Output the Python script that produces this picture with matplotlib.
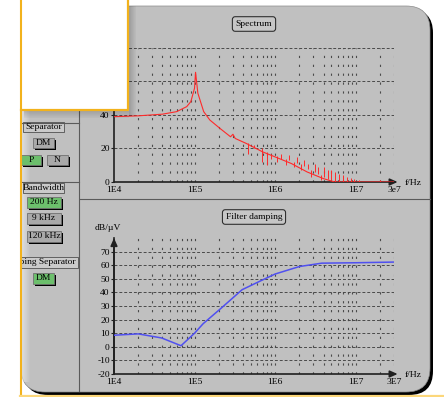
import numpy as np
import matplotlib
matplotlib.use('Agg')
import matplotlib.pyplot as plt
from matplotlib.patches import FancyBboxPatch, Rectangle
from matplotlib.transforms import Bbox, TransformedBbox

plt.rcParams['font.family'] = ['Liberation Serif', 'DejaVu Serif']

W, H = 444, 397

# spectrum, dBµV over f/Hz
spec_f = [1e4, 2e4, 4e4, 6e4, 8e4, 9e4, 1.0e5, 1.03e5, 1.1e5, 1.3e5, 1.55e5,
          2.07e5, 2.8e5, 3.0e5, 3.2e5, 4.4e5, 7e5, 1e6, 1.6e6, 2.5e6, 4e6, 5.5e6, 3e7]
spec_v = [39, 39.5, 40.5, 42, 45, 48, 56, 65.5, 53, 42, 37,
          32, 27, 28.5, 26, 23, 18, 15, 11, 6, 2, 0, 0]
# narrow spikes on top of the spectrum
spike_f = [4.6e5, 5.5e5, 6.8e5, 8.0e5, 9.0e5, 1.05e6, 1.2e6, 1.35e6, 1.5e6, 1.7e6,
           1.9e6, 2.1e6, 2.3e6, 2.6e6, 2.8e6, 3.1e6, 3.4e6, 3.7e6, 4.1e6, 4.5e6,
           5.0e6, 5.6e6, 6.3e6, 7.0e6, 7.8e6, 8.7e6, 9.5e6, 1.1e7, 2.0e7]
spike_lo = [17, 20, 12, 10, 14, 12, 14, 10, 13, 9,
            11.5, 7, 9.5, 8, 3, 6, 5, 1, 3, 2,
            1, 0, 0, 0, 0, 0, 0, 0, 0]
spike_hi = [23, 22, 20, 18, 17, 15.5, 17, 13.5, 16, 12,
            15, 10.5, 13, 11, 7, 11, 9, 4, 9, 7,
            7, 6, 5, 4, 3, 2.5, 2, 1, 1]

# filter damping, dB over f/Hz
damp_f = [1e4, 2e4, 3.9e4, 6.8e4, 1e5, 1.28e5, 2.2e5, 3.9e5, 6.9e5, 1e6, 2e6, 3.8e6, 1e7, 3e7]
damp_v = [8.5, 9.5, 6.5, 0.8, 10, 17, 29, 42, 49, 53.5, 59, 61.5, 61.8, 62.3]

spec_ticks = [0, 20, 40, 60, 80]
damp_ticks = [-20, -10, 0, 10, 20, 30, 40, 50, 60, 70]

GRAY = '#c0c0c0'
GRID = '#4a4a4a'
GREEN = '#6cbf6c'
BTN = '#a9a9a9'
ORANGE = '#f2b21c'
FS = 6.8

fig = plt.figure(figsize=(W / 100, H / 100), dpi=100)
fig.patch.set_facecolor('white')

bg = fig.add_axes([0, 0, 1, 1], zorder=0)
bg.set_xlim(0, W)
bg.set_ylim(H, 0)
bg.axis('off')

# panel with black shadow
bg.add_patch(FancyBboxPatch((24, 9), 409, 386, boxstyle='round,pad=0,rounding_size=24',
                            fc='black', ec='none'))
bg.add_patch(FancyBboxPatch((21, 6), 409, 386, boxstyle='round,pad=0,rounding_size=24',
                            fc=GRAY, ec='#8a8a8a', lw=0.5))
# light gradient on the left edge
for i in range(9):
    bg.add_patch(Rectangle((21 + i, 110), 1, 272, fc='white', ec='none', alpha=0.5 - i * 0.055))

# separators
bg.plot([79, 79], [6, 391], color='#5a5a5a', lw=0.8)
bg.plot([80, 430], [199, 199], color='#5a5a5a', lw=0.8)
bg.plot([21, 79], [123, 123], color='#5a5a5a', lw=0.8)
bg.plot([21, 79], [182, 182], color='#5a5a5a', lw=0.8)


def header(x0, y0, x1, y1, label, clip=False):
    r = Rectangle((x0, y0), x1 - x0, y1 - y0, fc='#cacaca', ec='#505050', lw=0.6)
    bg.add_patch(r)
    if clip:
        t = bg.text(x1 - 2, (y0 + y1) / 2, label, ha='right', va='center', fontsize=FS)
        t.set_clip_box(TransformedBbox(Bbox([[x0, y0], [x1, y1]]), bg.transData))
        t.set_clip_on(True)
    else:
        bg.text((x0 + x1) / 2, (y0 + y1) / 2, label, ha='center', va='center', fontsize=FS)


def button(x0, y0, x1, y1, label, color):
    bg.add_patch(Rectangle((x0 + 2, y0 + 2), x1 - x0, y1 - y0, fc='black', ec='none'))
    bg.add_patch(Rectangle((x0, y0), x1 - x0, y1 - y0, fc=color, ec='#707070', lw=0.6))
    bg.text((x0 + x1) / 2, (y0 + y1) / 2, label, ha='center', va='center', fontsize=FS)


header(23, 122, 64, 132, 'Separator')
button(33, 138, 54, 148, 'DM', BTN)
button(21, 155, 41, 165, 'P', GREEN)
button(47, 155, 68, 165, 'N', BTN)
header(23, 183, 64, 193, 'Bandwidth')
button(27, 197, 61, 208, '200 Hz', GREEN)
button(27, 213, 61, 224, '9 kHz', BTN)
button(27, 231, 61, 242, '120 kHz', BTN)
header(21, 257, 78, 268, 'Damping Separator', clip=True)
button(33, 273, 54, 284, 'DM', GREEN)

title_box = dict(boxstyle='round,pad=0.35,rounding_size=0.3', fc='#c6c6c6', ec='#303030', lw=0.8)
bg.text(254, 24, 'Spectrum', ha='center', va='center', fontsize=FS, bbox=title_box)
bg.text(254, 217, 'Filter damping', ha='center', va='center', fontsize=FS, bbox=title_box)
bg.text(108, 228, 'dB/µV', ha='center', va='center', fontsize=FS)
bg.text(405, 183, 'f/Hz', ha='left', va='center', fontsize=FS)
bg.text(405, 375, 'f/Hz', ha='left', va='center', fontsize=FS)


def px_axes(l, t, r, b):
    a = fig.add_axes([l / W, 1 - b / H, (r - l) / W, (b - t) / H], zorder=1)
    a.patch.set_alpha(0)
    return a


def setup(ax, ymin, ymax, yticks, xlabels):
    ax.set_xscale('log')
    ax.set_xlim(1e4, 3e7)
    ax.set_ylim(ymin, ymax)
    for d in [1e4, 1e5, 1e6, 1e7]:
        for m in range(1, 10):
            f = m * d
            if 1e4 < f <= 3e7:
                ax.plot([f, f], [ymin, ymax], color=GRID, lw=0.8, ls=(0, (2, 6)), zorder=1)
    for y in yticks[1:]:
        ax.plot([1e4, 3e7], [y, y], color=GRID, lw=0.7, ls=(0, (3, 2)), zorder=1)
    for s in ['top', 'right']:
        ax.spines[s].set_visible(False)
    ax.spines['left'].set_color('#202020')
    ax.spines['left'].set_linewidth(1.2)
    ax.spines['bottom'].set_visible(False)
    ax.annotate('', xy=(1.013, 0), xycoords='axes fraction', xytext=(0, 0),
                arrowprops=dict(arrowstyle='-|>,head_length=0.45,head_width=0.2',
                                color='#202020', lw=1.2, shrinkA=0, shrinkB=0))
    ax.set_yticks(yticks)
    ax.set_yticklabels([str(t) for t in yticks])
    ax.set_xticks([1e4, 1e5, 1e6, 1e7, 3e7])
    ax.set_xticklabels(xlabels)
    ax.minorticks_off()
    ax.tick_params(axis='x', length=0, pad=2.8, labelsize=FS)
    ax.tick_params(axis='y', length=2.5, width=0.8, color='#202020', pad=0.5, labelsize=FS)


ax1 = px_axes(114, 48, 394, 182)
setup(ax1, 0, 80, spec_ticks, ['1E4', '1E5', '1E6', '1E7', '3e7'])
ax1.plot(spec_f, spec_v, color='#ff2a2a', lw=0.8, zorder=3)
ax1.vlines(spike_f, spike_lo, spike_hi, color='#ff2a2a', lw=0.7, zorder=3)

ax2 = px_axes(114, 238, 394, 374)
setup(ax2, -20, 80, damp_ticks, ['1E4', '1E5', '1E6', '1E7', '3E7'])
ax2.annotate('', xy=(0, 1.0), xycoords='axes fraction', xytext=(0, 0),
             arrowprops=dict(arrowstyle='-|>,head_length=0.45,head_width=0.2',
                             color='#202020', lw=1.2, shrinkA=0, shrinkB=0))
ax2.plot(damp_f, damp_v, color='#5050f0', lw=1.1, zorder=3)

# white pop-up box on top
top = fig.add_axes([0, 0, 1, 1], zorder=5)
top.set_xlim(0, W)
top.set_ylim(H, 0)
top.axis('off')
top.patch.set_alpha(0)
for i in range(7):
    top.add_patch(Rectangle((129 + i, 6), 1, 110, fc='black', ec='none', alpha=0.18 - i * 0.025))
    top.add_patch(Rectangle((24, 111 + i), 105, 1, fc='black', ec='none', alpha=0.15 - i * 0.02))
top.add_patch(Rectangle((21, -2), 107, 112, fc='white', ec='none'))
top.plot([128, 128, 21], [-2, 110, 110], color=ORANGE, lw=1.6)
top.plot([20.5, 20.5], [0, 396], color=ORANGE, lw=1.5)
top.plot([20, W], [395.5, 395.5], color='#fcd77a', lw=1.6)

fig.savefig('out.png', dpi=100)
